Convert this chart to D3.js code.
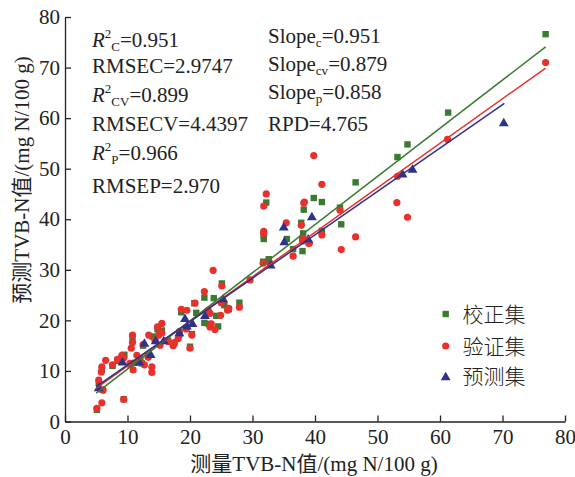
<!DOCTYPE html>
<html><head><meta charset="utf-8">
<script src="https://cdn.jsdelivr.net/npm/d3@7"></script>
<style>
body{margin:0;background:#fff;}
text{font-family:"Liberation Serif","Times New Roman","Noto Sans CJK SC",serif;fill:#222;}
</style></head>
<body><svg id="c" width="575" height="477"></svg>
<script>
// ---- data ----
const xTicks = [0,10,20,30,40,50,60,70,80];
const yTicks = [0,10,20,30,40,50,60,70,80];
const seriesNames = ["校正集","验证集","预测集"];
const calibration = [
 [5.1,2.3],[9.4,4.4],[5.9,10.2],[5.4,7.6],[6.0,6.3],[9.5,13.2],[10.8,16.5],[11.2,11.6],[12.3,11.5],[13.3,13.0],
 [14.8,18.3],[15.5,18.0],[16.5,16.0],[17.5,15.5],[18.3,17.2],[18.6,21.6],[20.0,14.8],[20.7,23.4],[22.3,24.5],[22.3,19.5],
 [23.8,24.4],[24.2,20.9],[25.1,27.3],[27.9,23.5],[31.7,31.6],[32.6,32.1],[31.8,36.8],[31.8,36.1],[32.2,43.3],[35.5,36.1],
 [36.5,34.1],[37.8,39.3],[38.1,37.2],[38.0,33.7],[38.2,41.9],[39.8,44.2],[41.1,43.4],[41.1,37.7],[44.0,42.3],[44.2,39.0],
 [46.5,47.3],[53.2,52.3],[54.8,54.8],[61.3,61.1],[76.9,76.6],
 [7.6,11.0],[8.4,12.0],[10.4,11.3],[12.0,12.4],[14.4,16.3],[15.0,17.3],[17.3,15.2],[19.4,18.5],[20.3,17.3],[21.0,21.5],
 [23.0,19.3],[24.5,18.8],[25.5,23.0],[26.2,22.2],[14.0,16.8],[12.5,15.0]
];
const validation = [
 [5.1,2.6],[5.9,3.7],[9.4,4.4],[6.1,6.2],[5.4,8.2],[5.8,9.8],[5.9,10.8],[6.5,12.1],[7.6,11.2],[8.4,12.3],
 [9.1,13.1],[9.4,12.6],[10.4,11.5],[10.9,10.2],[11.5,13.1],[10.6,14.5],[10.8,15.6],[10.8,17.1],[12.0,12.2],[12.7,11.2],
 [13.9,10.8],[13.9,9.7],[12.5,15.2],[13.4,17.1],[13.3,12.7],[14.4,16.1],[15.0,17.1],[14.8,18.7],[15.5,19.4],[15.5,17.5],
 [15.2,15.1],[16.5,15.8],[17.3,15.0],[17.5,15.6],[18.1,16.4],[18.3,17.8],[18.6,22.2],[19.5,22.0],[19.4,18.3],[20.3,17.1],
 [20.0,14.5],[20.8,23.4],[22.3,25.7],[23.7,29.9],[22.9,22.0],[23.4,19.3],[23.2,18.7],[23.2,21.4],[24.9,21.0],[26.2,22.4],
 [27.9,22.6],[25.1,26.8],[29.6,28.0],[24.0,18.2],[25.0,23.5],[26.0,22.0],
 [31.7,31.3],[32.7,31.5],[31.8,37.6],[31.8,37.2],[31.8,42.6],[32.2,45.0],[35.4,39.3],[36.5,32.7],[38.0,36.3],[39.1,35.3],
 [38.3,43.4],[38.2,43.2],[39.8,52.6],[41.1,46.9],[41.1,36.9],[37.8,38.8],[39.0,35.2],[38.0,35.7],[44.0,41.8],[44.2,34.0],
 [46.5,36.5],[53.2,48.5],[53.1,43.3],[54.8,40.4],[61.2,55.8],[76.9,71.0]
];
const prediction = [
 [5.4,6.7],[9.2,11.8],[11.9,11.8],[12.7,15.5],[13.7,13.3],[14.5,16.0],[15.8,16.0],[18.3,17.6],[19.2,20.4],[19.5,18.9],
 [20.4,19.4],[22.4,21.0],[25.3,24.3],[32.9,31.0],[35.0,38.5],[35.1,35.6],[38.9,36.1],[39.5,40.5],[54.0,49.0],[55.6,49.9],[70.2,59.1]
];
// fitted lines: [x0, y0, x1, y1]
const fitCalibration = [5, 5.6, 76.9, 74.1];
const fitValidation  = [5, 6.6, 76.9, 69.9];
const fitPrediction  = [5, 6.9, 70.3, 62.9];
const colors = ["#3b7a32","#e8302c","#2f3288"];

// ---- chart ----
const svg = d3.select("#c");
const x = d3.scaleLinear().domain([0,80]).range([65,565]);
const y = d3.scaleLinear().domain([0,80]).range([421.5,17]);

const gx = svg.append("g").attr("transform","translate(0,421.5)")
  .call(d3.axisBottom(x).tickValues(xTicks).tickSizeInner(-6).tickSizeOuter(0).tickPadding(6));
const gy = svg.append("g").attr("transform","translate(65,0)")
  .call(d3.axisLeft(y).tickValues(yTicks).tickSizeInner(-6).tickSizeOuter(0).tickPadding(5));
[gx,gy].forEach(g=>{
  g.selectAll("path,line").attr("stroke","#222").attr("stroke-width",1.3);
  g.selectAll("text").attr("font-size",21).attr("font-family","Liberation Serif").attr("fill","#222");
});
gx.selectAll("text").attr("dy","0.78em");

// points
const gp = svg.append("g");
gp.selectAll("rect.c").data(calibration).join("rect")
  .attr("x",d=>x(d[0])-3.2).attr("y",d=>y(d[1])-3.2).attr("width",6.4).attr("height",6.4)
  .attr("fill",colors[0]);
gp.selectAll("circle.v").data(validation).join("circle")
  .attr("cx",d=>x(d[0])).attr("cy",d=>y(d[1])).attr("r",3.6).attr("fill",colors[1]);
const tri = d3.symbol().type(d3.symbolTriangle).size(42);
gp.selectAll("path.p").data(prediction).join("path")
  .attr("d",tri).attr("transform",d=>`translate(${x(d[0])},${y(d[1])+0.8})`).attr("fill",colors[2]);

// fit lines
[fitCalibration,fitValidation,fitPrediction].forEach((f,i)=>{
  svg.append("line").attr("x1",x(f[0])).attr("y1",y(f[1])).attr("x2",x(f[2])).attr("y2",y(f[3]))
    .attr("stroke",colors[i]).attr("stroke-width",1.5);
});

// annotations
function stat(xp, yp, parts){
  const t = svg.append("text").attr("x",xp).attr("y",yp).attr("font-size",21);
  parts.forEach(p=>{
    const s = t.append("tspan").text(p.t);
    if(p.i) s.attr("font-style","italic");
    if(p.sup){ s.attr("font-size",13).attr("dy",-9); }
    if(p.sub){ s.attr("font-size",13).attr("dy",p.dy); }
    if(p.back){ s.attr("dy",p.back); }
  });
}
stat(92,46.7,[{t:"R",i:1},{t:"2",sup:1},{t:"C",sub:1,dy:13},{t:"=0.951",back:-4}]);
stat(92,73.3,[{t:"RMSEC=2.9747"}]);
stat(92,101.7,[{t:"R",i:1},{t:"2",sup:1},{t:"CV",sub:1,dy:13},{t:"=0.899",back:-4}]);
stat(92,130.5,[{t:"RMSECV=4.4397"}]);
stat(92,160,[{t:"R",i:1},{t:"2",sup:1},{t:"P",sub:1,dy:13},{t:"=0.966",back:-4}]);
stat(92,192.5,[{t:"RMSEP=2.970"}]);
stat(268,43.3,[{t:"Slope"},{t:"c",sub:1,dy:4},{t:"=0.951",back:-4}]);
stat(268,70.7,[{t:"Slope"},{t:"cv",sub:1,dy:4},{t:"=0.879",back:-4}]);
stat(268,99.3,[{t:"Slope"},{t:"p",sub:1,dy:4},{t:"=0.858",back:-4}]);
stat(268,130.7,[{t:"RPD=4.765"}]);

// legend
const ly = [314,346,376.7];
const lg = svg.append("g");
lg.append("rect").attr("x",445.7-3.2).attr("y",ly[0]-3.2).attr("width",6.4).attr("height",6.4).attr("fill",colors[0]);
lg.append("circle").attr("cx",445.7).attr("cy",ly[1]).attr("r",3.6).attr("fill",colors[1]);
lg.append("path").attr("d",tri).attr("transform",`translate(445.7,${ly[2]+0.8})`).attr("fill",colors[2]);
seriesNames.forEach((n,i)=>{
  lg.append("text").attr("x",462.5).attr("y",ly[i]).attr("dy","0.36em").attr("font-size",21)
    .attr("font-family","Noto Sans CJK SC").attr("font-weight",300).text(n);
});

// axis titles
svg.append("text").attr("x",314).attr("y",471).attr("text-anchor","middle").attr("font-size",21)
  .text("测量TVB-N值/(mg N/100 g)");
svg.append("text").attr("transform","translate(29,180) rotate(-90)").attr("text-anchor","middle").attr("font-size",21)
  .text("预测TVB-N值/(mg N/100 g)");
</script></body></html>
